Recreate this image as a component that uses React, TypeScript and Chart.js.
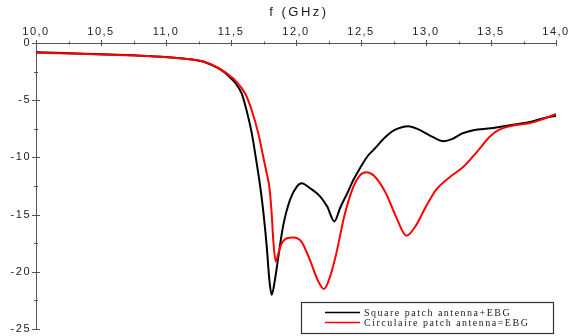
import React, { useEffect, useRef } from "react";
import { Chart, registerables } from "chart.js";

Chart.register(...registerables);

const seriesLabels = ["Square patch antenna+EBG", "Circulaire patch antenna=EBG"];

const squareFreq = [10.0, 10.25, 10.5, 10.75, 11.0, 11.2, 11.3, 11.4, 11.454, 11.5, 11.53, 11.582, 11.62, 11.66, 11.69, 11.71, 11.73, 11.75, 11.775, 11.795, 11.813, 11.838, 11.864, 11.9, 11.954, 12.005, 12.044, 12.108, 12.185, 12.24, 12.295, 12.34, 12.4, 12.44, 12.5, 12.55, 12.6, 12.69, 12.76, 12.864, 12.95, 13.05, 13.133, 13.2, 13.28, 13.364, 13.5, 13.646, 13.8, 13.9, 14.0];
const squareS11 = [-0.8, -0.9, -0.98, -1.08, -1.22, -1.45, -1.68, -2.2, -2.6, -3.1, -3.45, -4.4, -5.9, -7.9, -9.95, -11.4, -13.0, -14.9, -17.8, -20.7, -22.0, -20.7, -18.7, -16.05, -13.7, -12.57, -12.25, -12.7, -13.4, -14.3, -15.6, -14.4, -13.0, -12.0, -10.8, -9.9, -9.3, -8.2, -7.6, -7.27, -7.6, -8.2, -8.58, -8.4, -7.9, -7.62, -7.45, -7.18, -6.9, -6.6, -6.35];

const circFreq = [10.0, 10.25, 10.5, 10.75, 11.0, 11.2, 11.3, 11.4, 11.454, 11.5, 11.53, 11.608, 11.66, 11.71, 11.748, 11.775, 11.795, 11.813, 11.825, 11.844, 11.864, 11.89, 11.93, 11.98, 12.044, 12.108, 12.17, 12.215, 12.26, 12.31, 12.37, 12.44, 12.49, 12.54, 12.6, 12.69, 12.77, 12.85, 12.92, 13.0, 13.08, 13.18, 13.29, 13.4, 13.49, 13.56, 13.646, 13.8, 13.9, 14.0];
const circS11 = [-0.85, -0.92, -1.0, -1.1, -1.24, -1.45, -1.66, -2.15, -2.55, -2.95, -3.25, -4.4, -5.9, -7.9, -9.95, -11.4, -12.6, -14.9, -17.2, -19.1, -18.4, -17.5, -17.07, -17.0, -17.4, -19.0, -20.8, -21.5, -20.5, -18.4, -15.2, -12.6, -11.6, -11.3, -11.6, -13.1, -15.2, -16.84, -16.0, -14.3, -12.8, -11.75, -10.8, -9.4, -8.2, -7.6, -7.27, -7.0, -6.65, -6.2];

const xTitle = "f (GHz)";
const xMin = 10, xMax = 14, xStep = 0.5, xMinor = 0.25;
const yMin = -25, yMax = 0, yStep = 5, yMinor = 2.5;

const AXIS_COLOR = "#555";
const TEXT_COLOR = "#222";
const SANS = '"Liberation Sans", Arial, sans-serif';

const ticksPlugin = {
  id: "crossTicks",
  beforeDraw(chart: any) {
    chart.ctx.letterSpacing = "1.5px";
  },
  afterDraw(chart: any) {
    const ctx = chart.ctx;
    const xs = chart.scales.x;
    const ys = chart.scales.y;
    const top = chart.chartArea.top;
    const left = chart.chartArea.left;
    ctx.save();
    ctx.letterSpacing = "0px";
    ctx.strokeStyle = AXIS_COLOR;
    ctx.lineWidth = 1;
    ctx.beginPath();
    for (let v = xMin; v <= xMax + 1e-9; v += xMinor) {
      const px = Math.round(xs.getPixelForValue(v)) + 0.5;
      const major = Math.abs(v / xStep - Math.round(v / xStep)) < 1e-6;
      const h = major ? 3 : 1.5;
      ctx.moveTo(px, top - h);
      ctx.lineTo(px, top + h);
    }
    for (let v = yMin; v <= yMax + 1e-9; v += yMinor) {
      const py = Math.round(ys.getPixelForValue(v)) + 0.5;
      const major = Math.abs(v / yStep - Math.round(v / yStep)) < 1e-6;
      const w = major ? 4 : 2;
      ctx.moveTo(left - w, py);
      ctx.lineTo(left + w, py);
    }
    ctx.stroke();

    // axis title
    ctx.font = "13px " + SANS;
    ctx.letterSpacing = "2.5px";
    ctx.fillStyle = TEXT_COLOR;
    ctx.textAlign = "center";
    ctx.textBaseline = "middle";
    ctx.fillText(xTitle, (chart.chartArea.left + chart.chartArea.right) / 2 + 3, 12);

    // legend box
    const bx = 301.5, by = 302.5, bw = 252, bh = 31;
    ctx.fillStyle = "#fff";
    ctx.fillRect(bx, by, bw, bh);
    ctx.strokeStyle = "#333";
    ctx.lineWidth = 1.2;
    ctx.strokeRect(bx, by, bw, bh);
    const ds = chart.data.datasets;
    ctx.font = '10px "Liberation Serif", "Times New Roman", serif';
    ctx.letterSpacing = "1.5px";
    ctx.textBaseline = "middle";
    ctx.textAlign = "left";
    ctx.fillStyle = TEXT_COLOR;
    const rows = [312.5, 322.5];
    ds.forEach((d: any, i: number) => {
      ctx.strokeStyle = d.borderColor;
      ctx.lineWidth = 1.5;
      ctx.beginPath();
      ctx.moveTo(325, rows[i]);
      ctx.lineTo(360, rows[i]);
      ctx.stroke();
      ctx.fillText(d.label, 364, rows[i] + 0.5);
    });
    ctx.restore();
  },
};

export default function App() {
  const ref = useRef<HTMLCanvasElement>(null);
  useEffect(() => {
    document.body.style.margin = "0";
    const canvas = ref.current!;
    const chart = new Chart(canvas, {
      type: "line",
      data: {
        datasets: [
          {
            label: seriesLabels[0],
            data: squareFreq.map((f, i) => ({ x: f, y: squareS11[i] })),
            borderColor: "#000000",
            borderWidth: 2,
            pointRadius: 0,
            cubicInterpolationMode: "monotone",
            order: 1,
          },
          {
            label: seriesLabels[1],
            data: circFreq.map((f, i) => ({ x: f, y: circS11[i] })),
            borderColor: "#ff0000",
            borderWidth: 2,
            pointRadius: 0,
            cubicInterpolationMode: "monotone",
            order: 0,
          },
        ],
      },
      options: {
        animation: false,
        responsive: false,
        maintainAspectRatio: false,
        layout: { padding: { left: 0, top: 0, right: 13, bottom: 7 } },
        plugins: { legend: { display: false }, tooltip: { enabled: false } },
        scales: {
          x: {
            type: "linear",
            position: "top",
            min: xMin,
            max: xMax,
            grid: { display: false, drawTicks: false },
            border: { display: true, color: AXIS_COLOR, width: 1 },
            ticks: {
              stepSize: xStep,
              padding: 4,
              color: TEXT_COLOR,
              font: { family: SANS, size: 11 },
              autoSkip: false,
              maxRotation: 0,
              callback: (v: any) => Number(v).toFixed(1).replace(".", ","),
            },
            title: { display: false },
            afterFit: (s: any) => {
              s.height = 43;
              s.paddingLeft = 0;
              s.paddingRight = 0;
            },
          },
          y: {
            type: "linear",
            position: "left",
            min: yMin,
            max: yMax,
            grid: { display: false, drawTicks: false },
            border: { display: true, color: AXIS_COLOR, width: 1 },
            ticks: {
              stepSize: yStep,
              padding: 5,
              color: TEXT_COLOR,
              font: { family: SANS, size: 11 },
              callback: (v: any) => String(v),
            },
            afterFit: (s: any) => {
              s.width = 36;
              s.paddingTop = 0;
              s.paddingBottom = 0;
            },
          },
        },
      } as any,
      plugins: [ticksPlugin],
    });
    return () => chart.destroy();
  }, []);
  return (
    <div style={{ position: "absolute", left: 0, top: 0, width: 569, height: 336, background: "#fff" }}>
      <canvas ref={ref} width={569} height={336} style={{ width: 569, height: 336 }} />
    </div>
  );
}
